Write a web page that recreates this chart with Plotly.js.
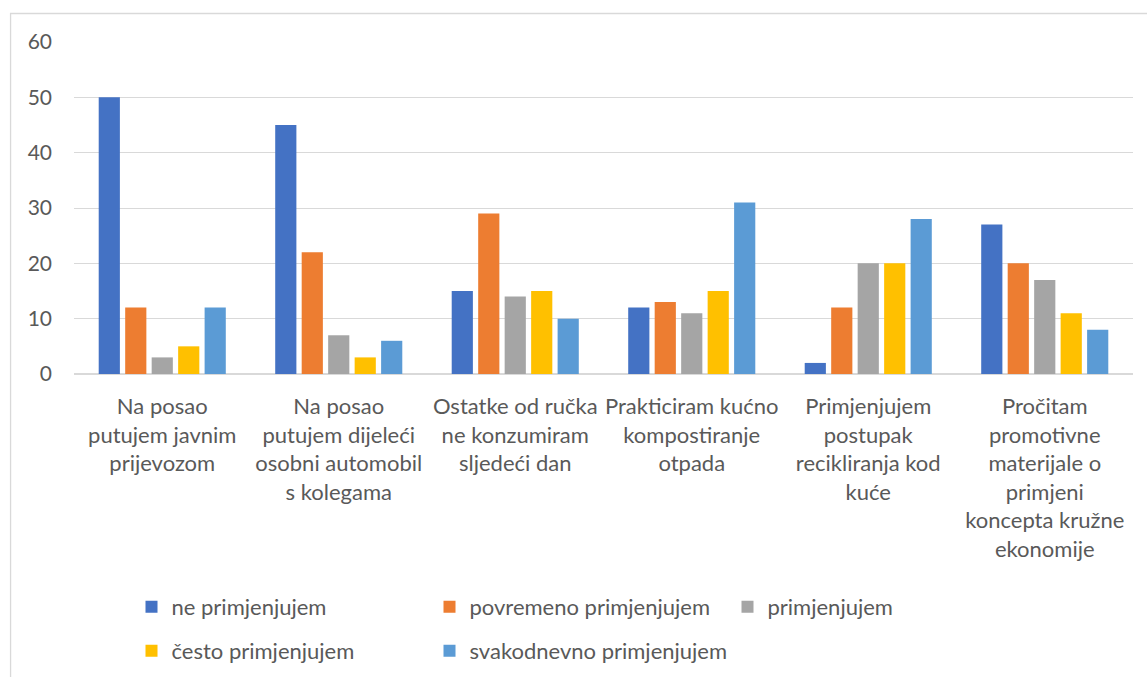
<!DOCTYPE html>
<html>
<head>
<meta charset="utf-8">
<script src="https://cdn.plot.ly/plotly-3.0.1.min.js"></script>
<style>html,body{margin:0;padding:0;background:#fff;}#chart{width:1147px;height:677px;}</style>
</head>
<body>
<div id="chart"></div>
<script>
const categories = [
  "Na posao<br>putujem javnim<br>prijevozom",
  "Na posao<br>putujem dijeleći<br>osobni automobil<br>s kolegama",
  "Ostatke od ručka<br>ne konzumiram<br>sljedeći dan",
  "Prakticiram kućno<br>kompostiranje<br>otpada",
  "Primjenjujem<br>postupak<br>recikliranja kod<br>kuće",
  "Pročitam<br>promotivne<br>materijale o<br>primjeni<br>koncepta kružne<br>ekonomije"
];
const seriesNames = ["ne primjenjujem", "povremeno primjenjujem", "primjenjujem", "često primjenjujem", "svakodnevno primjenjujem"];
const nePrimjenjujem = [50, 45, 15, 12, 2, 27];
const povremeno = [12, 22, 29, 13, 12, 20];
const primjenjujem = [3, 7, 14, 11, 20, 17];
const cesto = [5, 3, 15, 15, 20, 11];
const svakodnevno = [12, 6, 10, 31, 28, 8];
const yTicks = [0, 10, 20, 30, 40, 50, 60];

const colors = ["#4472C4", "#ED7D31", "#A5A5A5", "#FFC000", "#5B9BD5"];
const values = [nePrimjenjujem, povremeno, primjenjujem, cesto, svakodnevno];
const legendIds = ["legend", "legend", "legend", "legend2", "legend2"];
const FONT = "Lato, 'Open Sans', sans-serif";
const TXT = "#595959";

const traces = values.map((v, i) => ({
  type: "bar",
  x: categories,
  y: v,
  name: seriesNames[i],
  marker: {color: colors[i]},
  legend: legendIds[i],
  hoverinfo: "y+name"
}));

const legendBase = {
  orientation: "h",
  xanchor: "left",
  yanchor: "middle",
  entrywidth: 253,
  entrywidthmode: "pixels",
  font: {family: FONT, size: 22, color: TXT},
  bgcolor: "rgba(0,0,0,0)",
  itemclick: false,
  itemdoubleclick: false
};

const layout = {
  width: 1147,
  height: 677,
  margin: {l: 74, r: 14, t: 42, b: 303, autoexpand: false},
  paper_bgcolor: "#ffffff",
  plot_bgcolor: "#ffffff",
  font: {family: FONT, size: 22, color: TXT},
  barmode: "group",
  bargap: 0.25,
  bargroupgap: 0.2,
  xaxis: {
    type: "category",
    tickfont: {family: FONT, size: 22, color: TXT},
    ticks: "",
    showline: false,
    showgrid: false,
    automargin: false,
    ticklabelstandoff: 17,
    fixedrange: true
  },
  yaxis: {
    range: [0, 60],
    tickvals: yTicks,
    ticktext: yTicks.map(String),
    tickfont: {family: FONT, size: 21, color: TXT},
    showgrid: true,
    gridcolor: "#D9D9D9",
    gridwidth: 1.3,
    zeroline: true,
    zerolinecolor: "#D9D9D9",
    zerolinewidth: 1.5,
    showline: false,
    ticks: "",
    automargin: false,
    ticklabelstandoff: 21,
    fixedrange: true
  },
  legend: Object.assign({}, legendBase, {x: 0.0543, y: -0.702}),
  legend2: Object.assign({}, legendBase, {x: 0.0543, y: -0.834}),
  shapes: [{
    type: "rect",
    xref: "paper", yref: "paper",
    x0: -0.0599, x1: 1.05,
    y0: -1.2, y1: 1.0858,
    line: {color: "#D9D9D9", width: 1.3},
    fillcolor: "rgba(0,0,0,0)",
    layer: "below"
  }],
  showlegend: true
};

Plotly.newPlot("chart", traces, layout, {displayModeBar: false, staticPlot: false});
</script>
</body>
</html>
